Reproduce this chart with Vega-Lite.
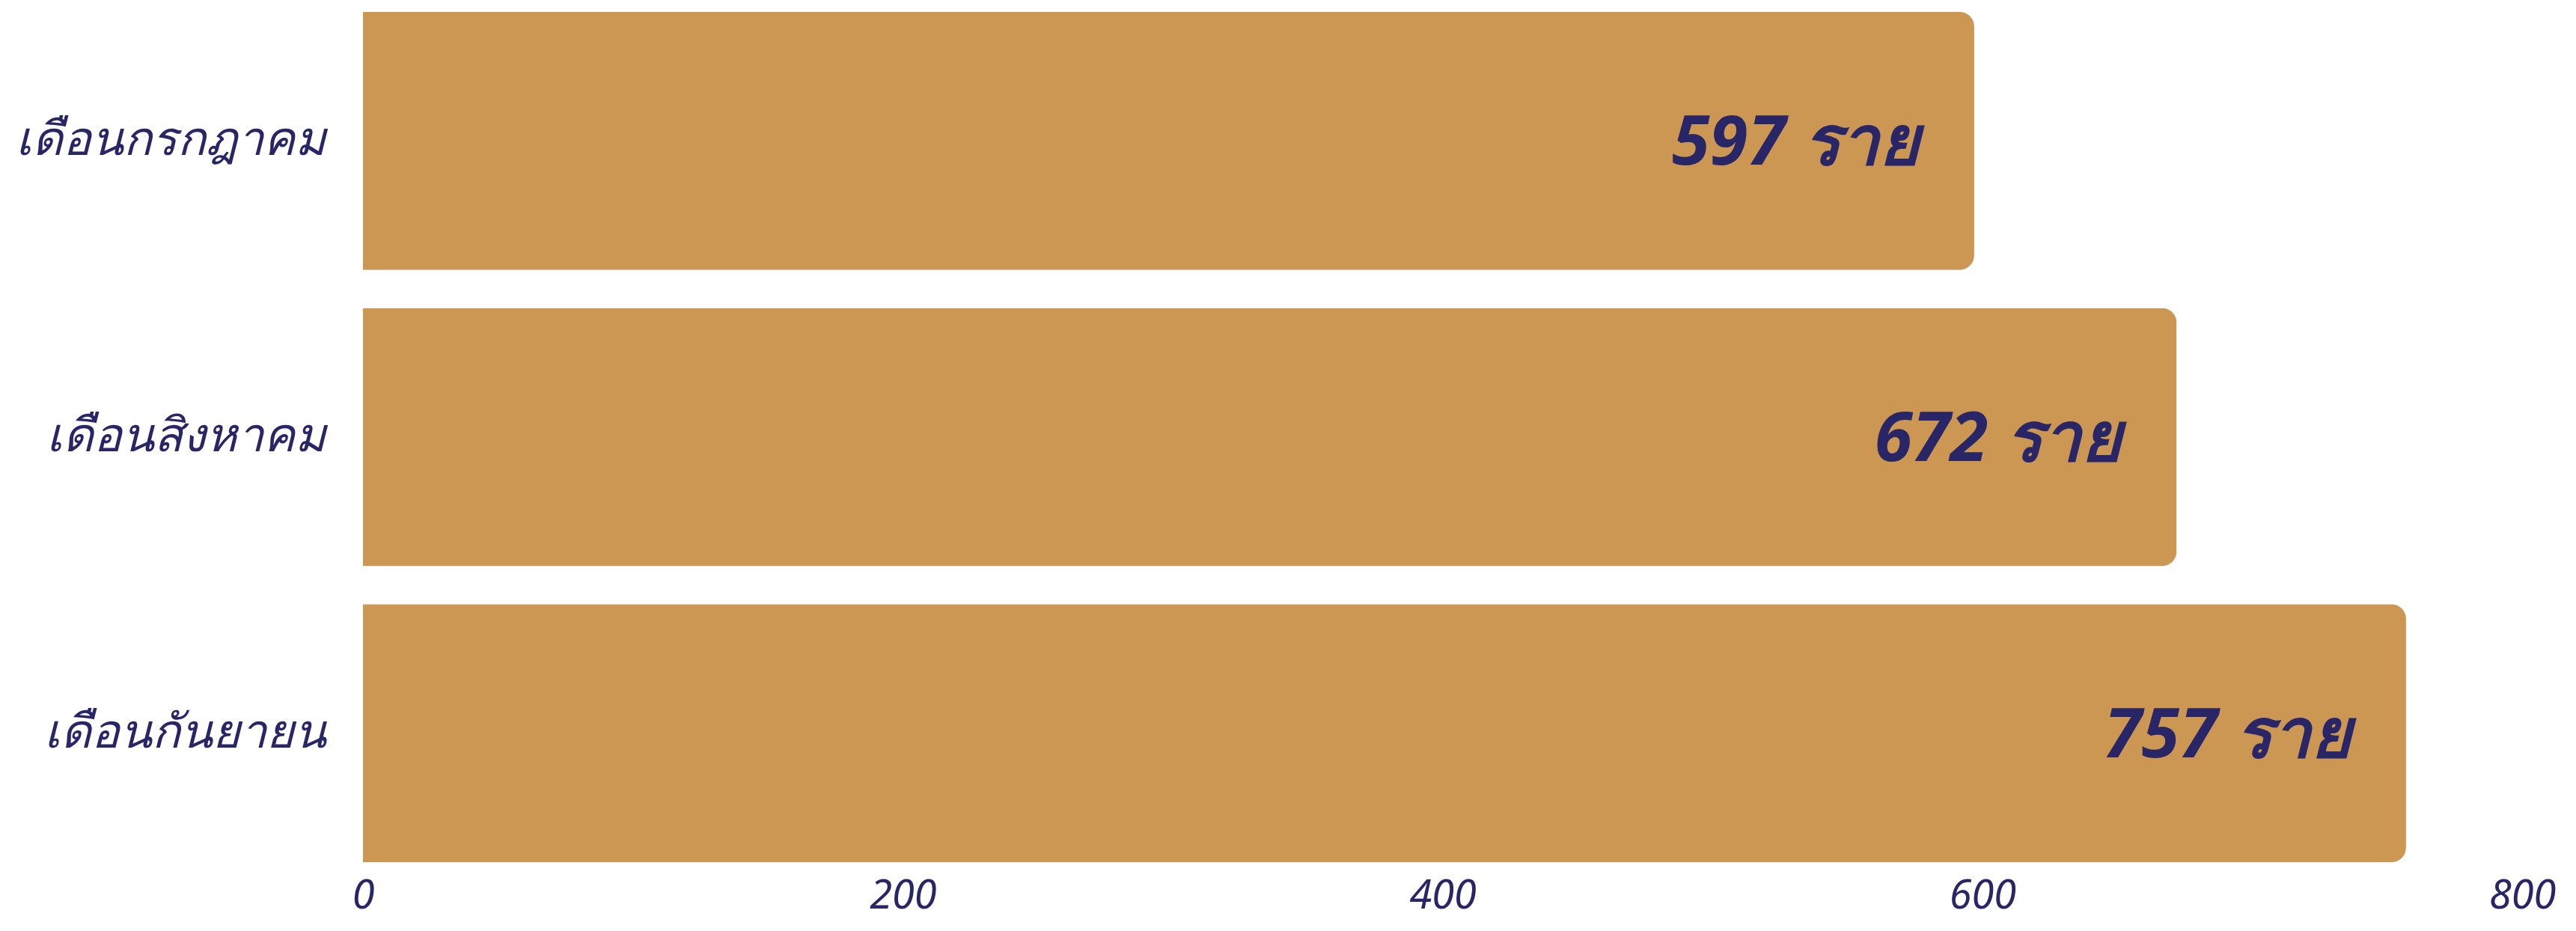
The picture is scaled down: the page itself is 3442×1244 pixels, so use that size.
{
  "$schema": "https://vega.github.io/schema/vega-lite/v6.json",
  "width": 2885,
  "height": 1168,
  "padding": {"left": 0, "top": 0, "right": 0, "bottom": 20},
  "background": "white",
  "config": {"view": {"stroke": null}},
  "data": {"values": [
    {"month": "เดือนกรกฎาคม", "count": 597, "label": "597 ราย"},
    {"month": "เดือนสิงหาคม", "count": 672, "label": "672 ราย"},
    {"month": "เดือนกันยายน", "count": 757, "label": "757 ราย"}
  ]},
  "encoding": {
    "y": {"field": "month", "type": "nominal", "sort": null,
      "scale": {"paddingInner": 0.128, "paddingOuter": 0.04},
      "axis": {"title": null, "domain": false, "ticks": false, "labelPadding": 50,
        "minExtent": 485, "maxExtent": 485, "labelLimit": 0,
        "labelFont": "Noto Sans", "labelFontSize": 63, "labelFontStyle": "italic",
        "labelColor": "#292668", "labelAlign": "right"}},
    "x": {"field": "count", "type": "quantitative",
      "scale": {"domain": [0, 800], "nice": false},
      "axis": {"title": null, "domain": false, "ticks": false, "grid": false,
        "values": [0, 200, 400, 600, 800], "labelPadding": 2,
        "labelFont": "Noto Sans", "labelFontSize": 54, "labelFontStyle": "italic",
        "labelColor": "#292668", "labelFlush": false}}
  },
  "layer": [
    {"mark": {"type": "bar", "color": "#CB9752", "cornerRadiusEnd": 20}},
    {"mark": {"type": "text", "align": "right", "baseline": "middle", "dx": -73, "dy": 4,
      "font": "Noto Sans", "fontSize": 92, "fontWeight": "bold", "fontStyle": "italic", "color": "#292668"},
     "encoding": {"text": {"field": "label"}}}
  ]
}
